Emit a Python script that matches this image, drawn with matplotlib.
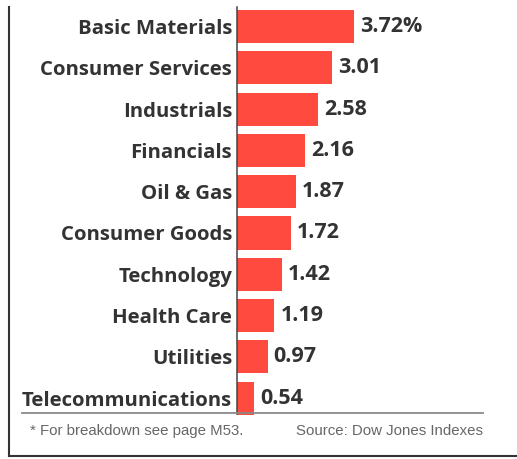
import matplotlib
matplotlib.use('Agg')
import matplotlib.pyplot as plt
from matplotlib.lines import Line2D

# data
sectors = ['Basic Materials', 'Consumer Services', 'Industrials', 'Financials',
           'Oil & Gas', 'Consumer Goods', 'Technology', 'Health Care',
           'Utilities', 'Telecommunications']
returns = [3.72, 3.01, 2.58, 2.16, 1.87, 1.72, 1.42, 1.19, 0.97, 0.54]
footnote = '* For breakdown see page M53.'
source = 'Source: Dow Jones Indexes'

W, H = 517, 459
bar_color = '#ff4a40'
text_color = '#333333'

fig = plt.figure(figsize=(W / 100, H / 100), dpi=100)
fig.patch.set_facecolor('white')

# axes placed so the zero line sits at x=237px, 31.5px per unit
ax = fig.add_axes([237 / W, 1 - 414 / H, (W - 237) / W, (414 - 7) / H])
ypos = list(range(len(sectors)))
ax.barh(ypos, returns, height=0.8, color=bar_color, clip_on=False, zorder=2)
ax.set_xlim(0, (W - 237) / 31.5)
ax.set_ylim(9.383, -0.472)

ax.set_yticks(ypos)
ax.set_yticklabels(sectors, fontsize=14.7, fontweight='bold',
                   family='Open Sans', color=text_color)
ax.tick_params(axis='y', length=0, pad=3.5)
ax.set_xticks([])

for s in ['top', 'right', 'bottom']:
    ax.spines[s].set_visible(False)
ax.spines['left'].set_color('#444444')
ax.spines['left'].set_linewidth(1.1)
ax.spines['left'].set_zorder(3)

for i, v in enumerate(returns):
    label = f'{v:.2f}%' if i == 0 else f'{v:.2f}'
    ax.text(v + 6 / 31.5, i, label, va='center', ha='left', fontsize=15.5,
            fontweight='bold', family='Open Sans', color=text_color)

# rule under the chart and footnotes
fig.add_artist(Line2D([22 / W, 483 / W], [1 - 413 / H] * 2, color='#8a8a8a', lw=1.3))
fig.text(30 / W, 1 - 431 / H, footnote, fontsize=10.8, family='Liberation Sans',
         color='#666666', va='center', ha='left')
fig.text(483 / W, 1 - 431 / H, source, fontsize=10.8, family='Liberation Sans',
         color='#666666', va='center', ha='right')

# frame on left and bottom
fig.add_artist(Line2D([8.5 / W, 8.5 / W], [1 - 7 / H, 1 - 456 / H], color='#333333', lw=1.5))
fig.add_artist(Line2D([8.5 / W, 1.0], [1 - 456 / H] * 2, color='#333333', lw=1.5))

fig.savefig('out.png', dpi=100)
